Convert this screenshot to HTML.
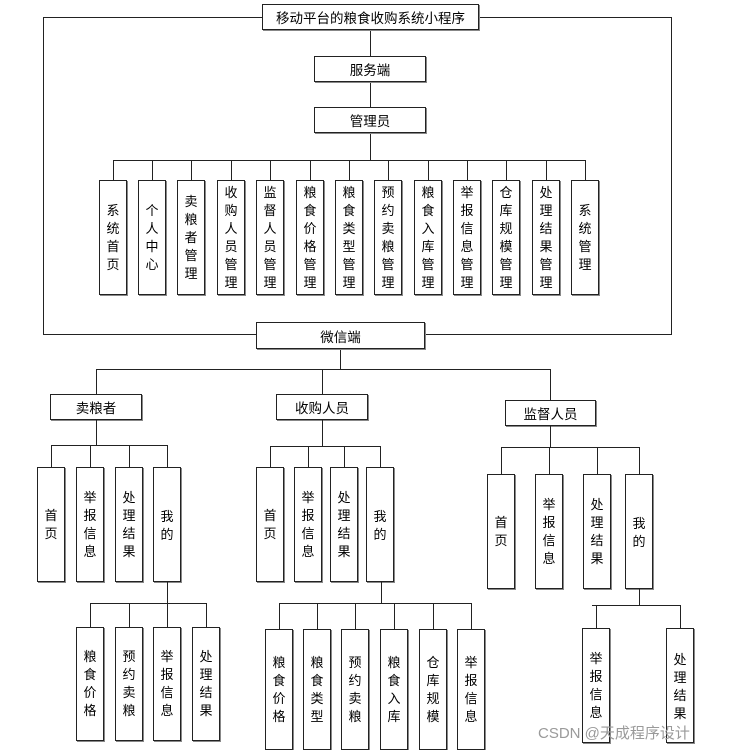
<!DOCTYPE html>
<html><head><meta charset="utf-8"><style>
body{margin:0;background:#fff;width:745px;height:750px;position:relative;overflow:hidden;font-family:"Liberation Sans","Noto Sans CJK SC","WenQuanYi Zen Hei",sans-serif;}
.l{position:absolute;background:#222;}
.b{position:absolute;box-sizing:border-box;border:1px solid #222;box-shadow:1px 1px 0 #888;background:#fff;display:flex;align-items:center;justify-content:center;text-align:center;font-size:13px;color:#000;}
.v{line-height:18px;}
.h{font-size:13.5px;}
</style></head><body>
<!-- outer rectangle -->
<div class="l" style="left:43px;top:17px;width:629px;height:1px"></div>
<div class="l" style="left:43px;top:334px;width:629px;height:1px"></div>
<div class="l" style="left:43px;top:17px;width:1px;height:318px"></div>
<div class="l" style="left:671px;top:17px;width:1px;height:318px"></div>
<!-- main spine -->
<div class="l" style="left:370px;top:30px;width:1px;height:130px"></div>
<div class="l" style="left:113px;top:160px;width:473px;height:1px"></div>
<div class="l" style="left:113px;top:160px;width:1px;height:20px"></div>
<div class="l" style="left:152px;top:160px;width:1px;height:20px"></div>
<div class="l" style="left:191px;top:160px;width:1px;height:20px"></div>
<div class="l" style="left:231px;top:160px;width:1px;height:20px"></div>
<div class="l" style="left:270px;top:160px;width:1px;height:20px"></div>
<div class="l" style="left:310px;top:160px;width:1px;height:20px"></div>
<div class="l" style="left:349px;top:160px;width:1px;height:20px"></div>
<div class="l" style="left:388px;top:160px;width:1px;height:20px"></div>
<div class="l" style="left:428px;top:160px;width:1px;height:20px"></div>
<div class="l" style="left:467px;top:160px;width:1px;height:20px"></div>
<div class="l" style="left:506px;top:160px;width:1px;height:20px"></div>
<div class="l" style="left:546px;top:160px;width:1px;height:20px"></div>
<div class="l" style="left:585px;top:160px;width:1px;height:20px"></div>

<div class="b h" style="left:262px;top:4px;width:217px;height:26px">移动平台的粮食收购系统小程序</div>
<div class="b h" style="left:314px;top:56px;width:112px;height:26px">服务端</div>
<div class="b h" style="left:314px;top:107px;width:112px;height:26px">管理员</div>

<div class="b v" style="left:99px;top:180px;width:28px;height:115px">系<br>统<br>首<br>页</div>
<div class="b v" style="left:138px;top:180px;width:28px;height:115px">个<br>人<br>中<br>心</div>
<div class="b v" style="left:177px;top:180px;width:28px;height:115px">卖<br>粮<br>者<br>管<br>理</div>
<div class="b v" style="left:217px;top:180px;width:28px;height:115px">收<br>购<br>人<br>员<br>管<br>理</div>
<div class="b v" style="left:256px;top:180px;width:28px;height:115px">监<br>督<br>人<br>员<br>管<br>理</div>
<div class="b v" style="left:296px;top:180px;width:28px;height:115px">粮<br>食<br>价<br>格<br>管<br>理</div>
<div class="b v" style="left:335px;top:180px;width:28px;height:115px">粮<br>食<br>类<br>型<br>管<br>理</div>
<div class="b v" style="left:374px;top:180px;width:28px;height:115px">预<br>约<br>卖<br>粮<br>管<br>理</div>
<div class="b v" style="left:414px;top:180px;width:28px;height:115px">粮<br>食<br>入<br>库<br>管<br>理</div>
<div class="b v" style="left:453px;top:180px;width:28px;height:115px">举<br>报<br>信<br>息<br>管<br>理</div>
<div class="b v" style="left:492px;top:180px;width:28px;height:115px">仓<br>库<br>规<br>模<br>管<br>理</div>
<div class="b v" style="left:532px;top:180px;width:28px;height:115px">处<br>理<br>结<br>果<br>管<br>理</div>
<div class="b v" style="left:571px;top:180px;width:28px;height:115px">系<br>统<br>管<br>理</div>

<!-- weixin -->
<div class="l" style="left:340px;top:340px;width:1px;height:29px"></div>
<div class="b h" style="left:256px;top:322px;width:169px;height:27px">微信端</div>
<div class="l" style="left:96px;top:369px;width:455px;height:1px"></div>
<div class="l" style="left:96px;top:369px;width:1px;height:25px"></div>
<div class="l" style="left:322px;top:369px;width:1px;height:25px"></div>
<div class="l" style="left:550px;top:369px;width:1px;height:31px"></div>

<div class="b h" style="left:50px;top:394px;width:92px;height:26px">卖粮者</div>
<div class="b h" style="left:276px;top:394px;width:92px;height:26px">收购人员</div>
<div class="b h" style="left:505px;top:400px;width:91px;height:26px">监督人员</div>

<!-- seller -->
<div class="l" style="left:96px;top:420px;width:1px;height:25px"></div>
<div class="l" style="left:51px;top:445px;width:117px;height:1px"></div>
<div class="l" style="left:51px;top:445px;width:1px;height:22px"></div>
<div class="l" style="left:90px;top:445px;width:1px;height:22px"></div>
<div class="l" style="left:129px;top:445px;width:1px;height:22px"></div>
<div class="l" style="left:167px;top:445px;width:1px;height:22px"></div>
<div class="b v" style="left:37px;top:467px;width:28px;height:115px">首<br>页</div>
<div class="b v" style="left:76px;top:467px;width:28px;height:115px">举<br>报<br>信<br>息</div>
<div class="b v" style="left:115px;top:467px;width:28px;height:115px">处<br>理<br>结<br>果</div>
<div class="b v" style="left:153px;top:467px;width:28px;height:115px;align-items:flex-start;padding-top:40px">我<br>的</div>
<div class="l" style="left:167px;top:582px;width:1px;height:21px"></div>
<div class="l" style="left:90px;top:603px;width:117px;height:1px"></div>
<div class="l" style="left:90px;top:603px;width:1px;height:24px"></div>
<div class="l" style="left:129px;top:603px;width:1px;height:24px"></div>
<div class="l" style="left:167px;top:603px;width:1px;height:24px"></div>
<div class="l" style="left:206px;top:603px;width:1px;height:24px"></div>
<div class="b v" style="left:76px;top:627px;width:28px;height:114px">粮<br>食<br>价<br>格</div>
<div class="b v" style="left:115px;top:627px;width:28px;height:114px">预<br>约<br>卖<br>粮</div>
<div class="b v" style="left:153px;top:627px;width:28px;height:114px">举<br>报<br>信<br>息</div>
<div class="b v" style="left:192px;top:627px;width:28px;height:114px">处<br>理<br>结<br>果</div>

<!-- buyer -->
<div class="l" style="left:322px;top:420px;width:1px;height:26px"></div>
<div class="l" style="left:270px;top:446px;width:111px;height:1px"></div>
<div class="l" style="left:270px;top:446px;width:1px;height:21px"></div>
<div class="l" style="left:308px;top:446px;width:1px;height:21px"></div>
<div class="l" style="left:344px;top:446px;width:1px;height:21px"></div>
<div class="l" style="left:380px;top:446px;width:1px;height:21px"></div>
<div class="b v" style="left:256px;top:467px;width:28px;height:115px">首<br>页</div>
<div class="b v" style="left:294px;top:467px;width:28px;height:115px">举<br>报<br>信<br>息</div>
<div class="b v" style="left:330px;top:467px;width:28px;height:115px">处<br>理<br>结<br>果</div>
<div class="b v" style="left:366px;top:467px;width:28px;height:115px;align-items:flex-start;padding-top:40px">我<br>的</div>
<div class="l" style="left:381px;top:582px;width:1px;height:21px"></div>
<div class="l" style="left:279px;top:603px;width:193px;height:1px"></div>
<div class="l" style="left:279px;top:603px;width:1px;height:26px"></div>
<div class="l" style="left:317px;top:603px;width:1px;height:26px"></div>
<div class="l" style="left:355px;top:603px;width:1px;height:26px"></div>
<div class="l" style="left:394px;top:603px;width:1px;height:26px"></div>
<div class="l" style="left:433px;top:603px;width:1px;height:26px"></div>
<div class="l" style="left:471px;top:603px;width:1px;height:26px"></div>
<div class="b v" style="left:265px;top:629px;width:28px;height:121px">粮<br>食<br>价<br>格</div>
<div class="b v" style="left:303px;top:629px;width:28px;height:121px">粮<br>食<br>类<br>型</div>
<div class="b v" style="left:341px;top:629px;width:28px;height:121px">预<br>约<br>卖<br>粮</div>
<div class="b v" style="left:380px;top:629px;width:28px;height:121px">粮<br>食<br>入<br>库</div>
<div class="b v" style="left:419px;top:629px;width:28px;height:121px">仓<br>库<br>规<br>模</div>
<div class="b v" style="left:457px;top:629px;width:28px;height:121px">举<br>报<br>信<br>息</div>

<!-- supervisor -->
<div class="l" style="left:550px;top:426px;width:1px;height:21px"></div>
<div class="l" style="left:501px;top:447px;width:139px;height:1px"></div>
<div class="l" style="left:501px;top:447px;width:1px;height:27px"></div>
<div class="l" style="left:549px;top:447px;width:1px;height:27px"></div>
<div class="l" style="left:597px;top:447px;width:1px;height:27px"></div>
<div class="l" style="left:639px;top:447px;width:1px;height:27px"></div>
<div class="b v" style="left:487px;top:474px;width:28px;height:115px">首<br>页</div>
<div class="b v" style="left:535px;top:474px;width:28px;height:115px">举<br>报<br>信<br>息</div>
<div class="b v" style="left:583px;top:474px;width:28px;height:115px">处<br>理<br>结<br>果</div>
<div class="b v" style="left:625px;top:474px;width:28px;height:115px;align-items:flex-start;padding-top:40px">我<br>的</div>
<div class="l" style="left:639px;top:589px;width:1px;height:16px"></div>
<div class="l" style="left:592px;top:605px;width:89px;height:1px"></div>
<div class="l" style="left:596px;top:605px;width:1px;height:23px"></div>
<div class="l" style="left:680px;top:605px;width:1px;height:23px"></div>
<div class="b v" style="left:582px;top:628px;width:28px;height:115px">举<br>报<br>信<br>息</div>
<div class="b v" style="left:666px;top:628px;width:28px;height:115px;align-items:flex-start;padding-top:22px">处<br>理<br>结<br>果</div>

<div style="position:absolute;left:538px;top:722px;font-size:15px;color:#9a9a9a;white-space:nowrap">CSDN @天成程序设计</div>
</body></html>
